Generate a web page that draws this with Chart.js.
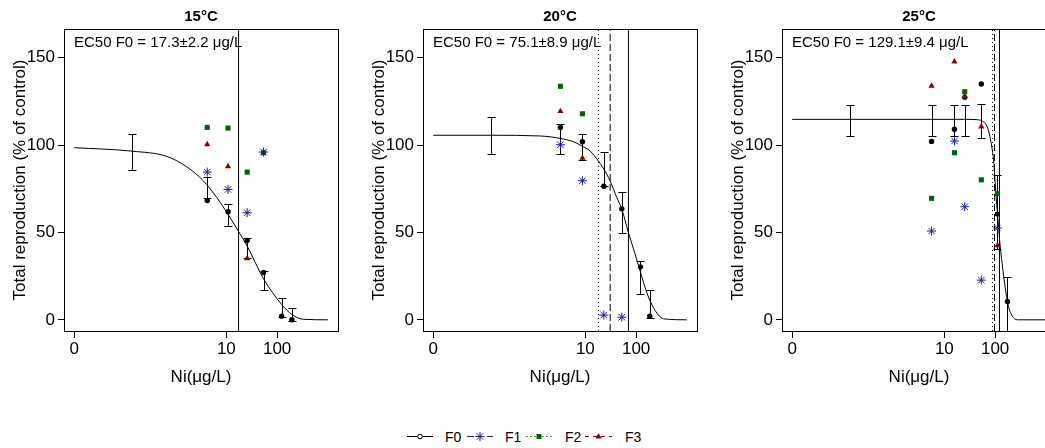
<!DOCTYPE html>
<html>
<head>
<meta charset="utf-8">
<script src="https://cdn.jsdelivr.net/npm/chart.js@4.4.1/dist/chart.umd.min.js"></script>
<style>
  body { margin: 0; width: 1045px; height: 448px; overflow: hidden; background: #fff; position: relative; }
  canvas { position: absolute; top: 0; }
  #legend { position: absolute; left: 400px; top: 424px; }
  #legend text { font-family: "Liberation Sans", Arial, sans-serif; font-size: 14px; fill: #000; }
</style>
</head>
<body>
<canvas id="c15" width="359" height="400" style="left:0px"></canvas>
<canvas id="c20" width="359" height="400" style="left:359px"></canvas>
<canvas id="c25" width="359" height="400" style="left:718px"></canvas>

<svg id="legend" width="260" height="25">
  <line x1="7" y1="12.5" x2="33" y2="12.5" stroke="#000" stroke-width="1"/>
  <circle cx="20" cy="12.5" r="2.3" fill="#fff" stroke="#000"/>
  <text x="45" y="12.5" dominant-baseline="central">F0</text>
  <line x1="67" y1="12.5" x2="93" y2="12.5" stroke="#1a1a9c" stroke-dasharray="7,3"/>
  <path d="M80 8v9M75.5 12.5h9M76.8 9.3l6.4 6.4M76.8 15.7l6.4-6.4" stroke="#1a1a9c"/>
  <text x="105" y="12.5" dominant-baseline="central">F1</text>
  <line x1="126" y1="12.5" x2="153" y2="12.5" stroke="#006400" stroke-dasharray="1.5,2.5"/>
  <rect x="136.5" y="10" width="5" height="5" fill="#006400"/>
  <text x="165" y="12.5" dominant-baseline="central">F2</text>
  <line x1="185" y1="12.5" x2="212" y2="12.5" stroke="#8b0000" stroke-dasharray="4,4"/>
  <path d="M198.5 9l3.2 5.5h-6.4z" fill="#8b0000"/>
  <text x="225" y="12.5" dominant-baseline="central">F3</text>
</svg>

<script>
Chart.defaults.font.family = '"Liberation Sans", Arial, sans-serif';
Chart.defaults.color = '#000';

const panelTitles = ['15°C', '20°C', '25°C'];
const ec50Texts = ['EC50 F0 = 17.3±2.2 μg/L', 'EC50 F0 = 75.1±8.9 μg/L', 'EC50 F0 = 129.1±9.4 μg/L'];
const xTickValues = [0.01, 10, 100];
const xTickLabels = ['0', '10', '100'];
const yTickValues = [0, 50, 100, 150];
const xLimits = [0.01, 1000];
const yLimits = [0, 160];

// 15°C
const conc15 = [4.2, 10.8, 25.7, 54, 123, 195];
const f0_15 = [68.3, 61.8, 45.4, 27.1, 2.1, 0];
const f1_15 = [84.5, 74.6, 61.3, 96, null, null];
const f2_15 = [110.1, 109.7, 84.5, 95.6, null, null];
const f3_15 = [100.4, 87.8, 35.1, null, null, null];
const errConc15 = [0.14, 4.2, 10.8, 25.7, 54, 123, 195];
const errLow15 = [85.7, 69.8, 53.4, 35.1, 16.8, 1.5, -0.8];
const errHigh15 = [106.3, 82.0, 66.4, 46.6, 27.9, 12.6, 6.9];
const fitConc15 = [0.01, 0.14, 0.67, 1.66, 3.53, 6.46, 10.8, 17.4, 25.7, 53.9, 123, 195, 333, 1000];
const fitRepro15 = [98.5, 96.5, 93.5, 87.5, 79.5, 70, 60.3, 50.5, 42.2, 23.5, 8.8, 3.1, 0.3, 0];
const ec50Lines15 = [null, null, 17.4]; // dotted, dashed, solid

// 20°C
const conc20 = [3.22, 8.75, 23.1, 52.3, 122, 186];
const f0_20 = [110.1, 101.9, 76.4, 63.5, 30.3, 2.1];
const f1_20 = [100.2, 79.6, 2.7, 1.5, null, null];
const f2_20 = [133.6, 117.9, null, null, null, null];
const f3_20 = [119.3, 92.6, null, null, null, null];
const errConc20 = [0.14, 3.22, 8.75, 23.1, 52.3, 122, 186];
const errLow20 = [94.8, 95.0, 91.2, 76.4, 49.6, 14.9, 1.0];
const errHigh20 = [116.2, 111.8, 106.5, 96.2, 73.3, 33.6, 17.2];
const fitConc20 = [0.01, 0.14, 1.28, 3.18, 5.82, 8.63, 12.4, 18.1, 22.7, 30.8, 41.8, 52.4, 70.6, 95.9, 120, 163, 220, 347, 1000];
const fitRepro20 = [105.6, 105.6, 105.2, 103.8, 101.9, 99.4, 96.6, 90.8, 86.6, 79.4, 69.8, 63.2, 49.8, 37.4, 27.9, 15.5, 6.9, 0.6, 0];
const ec50Lines20 = [18.1, 30.8, 70.6];

// 25°C
const conc25 = [5.6, 15.8, 25.2, 53.5, 111, 175];
const f0_25 = [102.1, 109.0, 127.3, 134.9, 60.5, 10.5];
const f1_25 = [50.8, 102.3, 64.7, 22.7, 52.5, null];
const f2_25 = [69.5, 95.6, 130.5, 80.1, 72.1, null];
const f3_25 = [133.8, 147.7, 128.0, 110.5, 42.6, null];
const errConc25 = [0.14, 5.6, 15.8, 25.2, 53.5, 108, 175];
const errLow25 = [105.2, 105.2, 105.2, 105.2, 104.2, 40.5, -25];
const errHigh25 = [123.2, 123.2, 123.2, 123.2, 123.3, 82.6, 24.6];
const fitConc25 = [0.01, 0.14, 5.6, 25, 44.9, 54.8, 68.8, 80, 86.3, 92.9, 100, 108, 117, 126, 142, 158, 184, 230, 289, 1000];
const fitRepro25 = [114.7, 114.7, 114.7, 114.7, 114.5, 113.8, 110.9, 104.2, 98.5, 92, 79, 65.5, 53, 42, 29, 18.5, 7.5, 1.2, 0, 0];
const ec50Lines25 = [88.7, 97.2, 122];

const panels = [
  { id: 'c15', conc: conc15, f0: f0_15, f1: f1_15, f2: f2_15, f3: f3_15, errConc: errConc15, errLow: errLow15, errHigh: errHigh15, fitConc: fitConc15, fitRepro: fitRepro15, lines: ec50Lines15 },
  { id: 'c20', conc: conc20, f0: f0_20, f1: f1_20, f2: f2_20, f3: f3_20, errConc: errConc20, errLow: errLow20, errHigh: errHigh20, fitConc: fitConc20, fitRepro: fitRepro20, lines: ec50Lines20 },
  { id: 'c25', conc: conc25, f0: f0_25, f1: f1_25, f2: f2_25, f3: f3_25, errConc: errConc25, errLow: errLow25, errHigh: errHigh25, fitConc: fitConc25, fitRepro: fitRepro25, lines: ec50Lines25 }
];

// R style axis expansion (4%)
const yPad = (yLimits[1] - yLimits[0]) * 0.04;
const yMin = yLimits[0] - yPad, yMax = yLimits[1] + yPad;
const lxPad = (Math.log10(xLimits[1]) - Math.log10(xLimits[0])) * 0.04;
const xMin = Math.pow(10, Math.log10(xLimits[0]) - lxPad), xMax = Math.pow(10, Math.log10(xLimits[1]) + lxPad);

const errorBars = {
  id: 'errorBars',
  beforeDatasetsDraw(chart, args, opts) {
    const { ctx, chartArea: a, scales: { x, y } } = chart;
    ctx.save();
    ctx.beginPath();
    ctx.rect(a.left, a.top, a.right - a.left, a.bottom - a.top);
    ctx.clip();
    ctx.strokeStyle = '#000';
    ctx.lineWidth = 1;
    opts.conc.forEach((c, i) => {
      const px = Math.round(x.getPixelForValue(c)) + 0.5;
      const lo = Math.round(y.getPixelForValue(opts.low[i])) + 0.5;
      const hi = Math.round(y.getPixelForValue(opts.high[i])) + 0.5;
      ctx.beginPath();
      ctx.moveTo(px, lo); ctx.lineTo(px, hi);
      ctx.moveTo(px - 4, hi); ctx.lineTo(px + 4, hi);
      ctx.moveTo(px - 4, lo); ctx.lineTo(px + 4, lo);
      ctx.stroke();
    });
    ctx.restore();
  }
};

const frameAndLabel = {
  id: 'frameAndLabel',
  afterDraw(chart, args, opts) {
    const { ctx, chartArea: a } = chart;
    ctx.save();
    ctx.strokeStyle = '#000';
    ctx.lineWidth = 1;
    const l = Math.round(a.left) + 0.5, t = Math.round(a.top) + 0.5;
    const r = Math.round(a.right) + 0.5, b = Math.round(a.bottom) + 0.5;
    ctx.strokeRect(l, t, r - l, b - t);
    ctx.fillStyle = '#000';
    ctx.font = '15px "Liberation Sans", Arial, sans-serif';
    ctx.textBaseline = 'middle';
    ctx.fillText(opts.text, a.left + 10, a.top + 14);
    ctx.restore();
  }
};

function points(conc, vals) {
  return conc.map((c, i) => ({ x: c, y: vals[i] })).filter(d => d.y !== null);
}

const lineDashes = [[1, 3], [7, 3], []];

panels.forEach((p, k) => {
  const datasets = [
    { data: points(p.conc, p.f1), pointStyle: 'star', pointRadius: 4.5, borderColor: '#1a1a9c', backgroundColor: '#1a1a9c', pointBorderWidth: 1 },
    { data: points(p.conc, p.f3), pointStyle: 'triangle', pointRadius: 3.6, borderColor: '#8b0000', backgroundColor: '#8b0000', pointBorderWidth: 0 },
    { data: points(p.conc, p.f2), pointStyle: 'rect', pointRadius: 3.6, borderColor: '#006400', backgroundColor: '#006400', pointBorderWidth: 0 },
    { data: points(p.conc, p.f0), pointStyle: 'circle', pointRadius: 2.7, borderColor: '#000', backgroundColor: '#000', pointBorderWidth: 0 },
    { data: points(p.fitConc, p.fitRepro), showLine: true, borderColor: '#000', borderWidth: 1, pointRadius: 0, cubicInterpolationMode: 'monotone' }
  ];
  p.lines.forEach((c, j) => {
    if (c === null) return;
    datasets.push({
      data: [{ x: c, y: yMin }, { x: c, y: yMax }],
      showLine: true, borderColor: '#000', borderWidth: 1, borderDash: lineDashes[j], pointRadius: 0
    });
  });

  new Chart(document.getElementById(p.id), {
    type: 'scatter',
    data: { datasets },
    options: {
      responsive: false,
      animation: false,
      layout: { padding: { left: 0, right: 21, top: 0, bottom: 0 } },
      scales: {
        x: {
          type: 'logarithmic',
          min: xMin, max: xMax, bounds: 'data',
          afterBuildTicks: s => { s.ticks = xTickValues.map(v => ({ value: v })); },
          ticks: {
            autoSkip: false, maxRotation: 0, padding: 1.5, font: { size: 17 },
            callback: v => xTickLabels[xTickValues.indexOf(v)]
          },
          grid: { drawOnChartArea: false, drawTicks: true, tickLength: 7, color: '#000' },
          border: { display: false },
          title: { display: true, text: 'Ni(μg/L)', font: { size: 17 }, padding: { top: 0, bottom: 12 } },
          afterFit: s => { s.height = 69; }
        },
        y: {
          min: yMin, max: yMax, bounds: 'data',
          afterBuildTicks: s => { s.ticks = yTickValues.map(v => ({ value: v })); },
          ticks: { autoSkip: false, padding: 3, font: { size: 17 } },
          grid: { drawOnChartArea: false, drawTicks: true, tickLength: 6, color: '#000' },
          border: { display: false },
          title: { display: true, text: 'Total reproduction (% of control)', font: { size: 17 }, padding: { top: 10, bottom: 0 } },
          afterFit: s => { s.width = 64; }
        }
      },
      plugins: {
        legend: { display: false },
        tooltip: { enabled: false },
        title: {
          display: true, text: panelTitles[k], fullSize: false,
          font: { size: 15, weight: 'bold' }, padding: { top: 8, bottom: 3 }
        },
        errorBars: { conc: p.errConc, low: p.errLow, high: p.errHigh },
        frameAndLabel: { text: ec50Texts[k] }
      }
    },
    plugins: [errorBars, frameAndLabel]
  });
});
</script>
</body>
</html>
